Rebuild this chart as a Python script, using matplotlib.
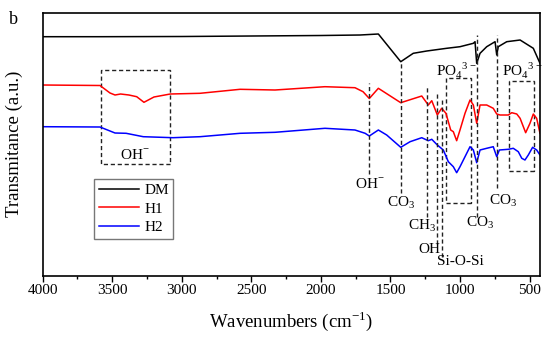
import matplotlib
matplotlib.use("Agg")
import matplotlib.pyplot as plt
from matplotlib.patches import Rectangle

plt.rcParams['font.family'] = ['Liberation Serif', 'DejaVu Serif']
plt.rcParams['mathtext.fontset'] = 'custom'
plt.rcParams['mathtext.rm'] = 'Liberation Serif'

# ---- data (wavenumber cm^-1, transmittance a.u.) ----
dm_w = [4000, 3588, 3000, 2500, 2000, 1719, 1587, 1426, 1336, 1239, 1096, 1000,
        904, 892, 880, 856, 808, 748, 736, 725, 664, 568, 473, 425]
dm_t = [239.3, 239.3, 239.5, 240, 240.5, 241, 242, 214.3, 222.7, 225, 227.7, 229.3,
        232.7, 234.3, 212.7, 222.7, 229.3, 234.3, 221, 229.3, 234.3, 236, 227.7, 212.7]

h1_w = [4000, 3588, 3516, 3480, 3440, 3380, 3324, 3272, 3200, 3083, 2869, 2581, 2330,
        1971, 1755, 1697, 1652, 1587, 1426, 1275, 1228, 1203, 1163, 1132, 1101, 1067,
        1048, 1024, 1000, 964, 928, 904, 880, 856, 808, 761, 736, 712, 653, 628, 592,
        568, 528, 497, 473, 449, 425]
h1_t = [191, 190.5, 183, 181, 182, 181, 179.3, 173.7, 179, 182, 182.7, 186.7, 186,
        189.3, 188.3, 184.3, 177.5, 187.7, 173.3, 180, 171, 175.3, 161, 167.7, 162.7, 146,
        144.3, 135.3, 146, 162.7, 176, 171, 152.7, 171, 171, 167.7, 162, 161, 161, 163.3, 162,
        157.7, 143.3, 152.7, 162, 157.7, 142.7]

h2_w = [4000, 3588, 3480, 3400, 3277, 3063, 2869, 2581, 2330, 1971, 1755, 1682, 1652,
        1587, 1527, 1426, 1359, 1275, 1228, 1203, 1163, 1120, 1084, 1048, 1024, 1000,
        964, 928, 904, 880, 856, 808, 761, 736, 717, 653, 617, 581, 556, 533, 509, 478,
        449, 425]
h2_t = [149.3, 149, 143, 142.7, 139.3, 138.3, 139.3, 142.7, 143.7, 147.7, 146, 142.7, 140,
        146, 141, 128.7, 134.3, 138.3, 135.3, 136.7, 131, 126, 114.3, 109.3, 103.3, 109.3,
        119.3, 129.3, 126, 113.3, 126, 127.7, 129.3, 119.3, 126, 126.7, 127.7, 124.3, 117.7,
        116, 121, 128.7, 126, 121]

series_names = ["DM", "H1", "H2"]
series_colors = ["black", "red", "blue"]

x_ticks = [4000, 3500, 3000, 2500, 2000, 1500, 1000, 500]

# band annotations: (wavenumber, y_top, y_bottom, label, label_x, label_y)
band_lines = [
    (1652, 193, 102, r"OH$^{-}$", 1645, 92),
    (1426, 214, 83, r"CO$_3$", 1421, 73),
    (1235, 189, 59, r"CH$_3$", 1273, 50),
    (1163, 183, 32, "OH", 1218, 27),
    (1127, 176, 19, "Si-O-Si", 994, 14),
    (880, 241, 59, r"CO$_3$", 855, 53),
    (734, 241, 88, r"CO$_3$", 690, 75),
]
# boxes: (w_left, w_right, y_top, y_bottom, label, label_x, label_y)
band_boxes = [
    (3583, 3083, 206, 112, r"OH$^{-}$", 3336, 121),
    (1103, 923, 197.7, 72.7, r"PO$_4$$^{3-}$", 1030, 206),
    (646, 468, 195.3, 105, r"PO$_4$$^{3-}$", 556, 206),
]

fig = plt.figure(figsize=(5.5, 3.37), dpi=100)
ax = fig.add_axes([0.0776, 0.1819, 0.9042, 0.7804])

for w, t, name, c in zip([dm_w, h1_w, h2_w], [dm_t, h1_t, h2_t], series_names, series_colors):
    ax.plot(w, t, color=c, lw=1.1, label=name)

dash = (0, (3, 2))
for w, yt, yb, lab, lx, ly in band_lines:
    ax.plot([w, w], [yb, yt], color="#222222", lw=1.0, linestyle=dash)
    ax.text(lx, ly, lab, ha="center", va="center", fontsize=11)

for wl, wr, yt, yb, lab, lx, ly in band_boxes:
    ax.add_patch(Rectangle((wr, yb), wl - wr, yt - yb, fill=False,
                           edgecolor="#222222", lw=1.0, linestyle=dash))
    ax.text(lx, ly, lab, ha="center", va="center", fontsize=11)

ax.set_xlim(4000, 425)
ax.set_ylim(0.3, 263.3)
ax.set_xticks(x_ticks)
ax.set_xticks([3750, 3250, 2750, 2250, 1750, 1250, 750], minor=True)
ax.set_yticks([])
ax.tick_params(axis="x", which="major", direction="out", length=4, width=1, labelsize=11, pad=2)
ax.tick_params(axis="x", which="minor", direction="out", length=2.5, width=1)
for s in ax.spines.values():
    s.set_linewidth(1.2)

ax.set_xlabel(r"Wavenumbers (cm$^{-1}$)", fontsize=13.5, labelpad=9)
ax.set_ylabel("Transmitance (a.u.)", fontsize=13.5, labelpad=14)

leg = ax.legend(loc="upper left", bbox_to_anchor=(0.104, 0.368), fontsize=11,
                frameon=True, fancybox=False, edgecolor="#555555",
                handlelength=2.6, handletextpad=0.35, borderpad=0.3, labelspacing=0.32,
                borderaxespad=0)
leg.get_frame().set_linewidth(1.0)

fig.text(13 / 550, 1 - 20 / 337, "b", fontsize=13, ha="center", va="center")

fig.savefig("out.png", dpi=100)
